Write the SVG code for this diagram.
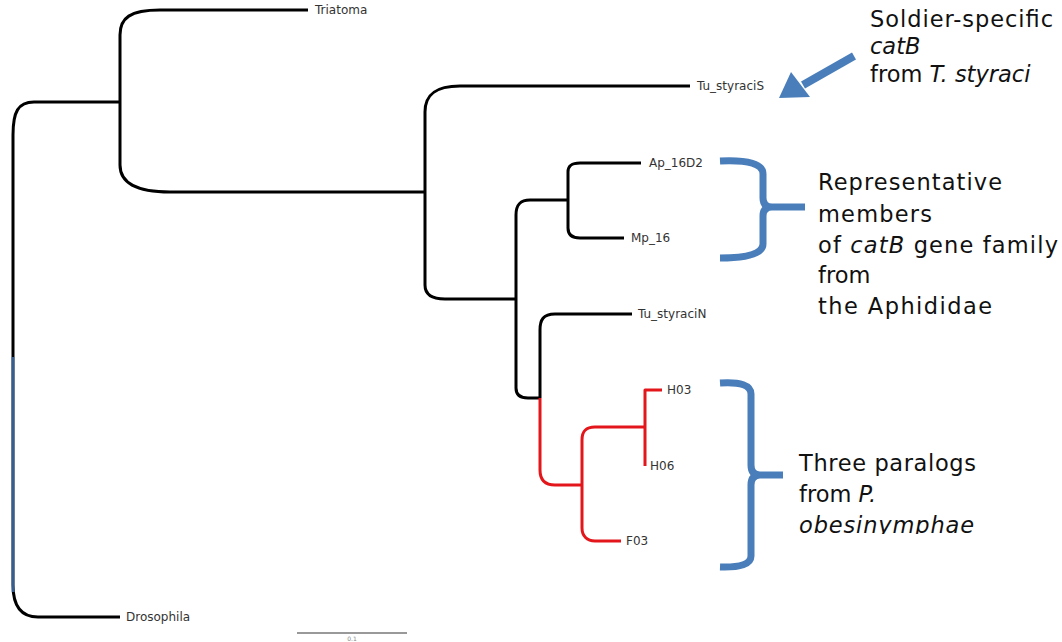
<svg xmlns="http://www.w3.org/2000/svg" width="1062" height="642" viewBox="0 0 1062 642">
<style>
.br{fill:none;stroke:#000;stroke-width:3;stroke-linecap:butt;stroke-linejoin:round}
.red{stroke:#e3171b}
.tip{font-family:"DejaVu Sans","Liberation Sans",sans-serif;font-size:12px;fill:#333}
.ann{font-family:"DejaVu Sans","Liberation Sans",sans-serif;font-size:22.5px;fill:#111}
.it{font-style:italic}
.blue{fill:none;stroke:#4a7ebb;stroke-width:7;stroke-linejoin:round}
</style>
<defs>
<clipPath id="clipObes"><rect x="780" y="500" width="282" height="34"/></clipPath>
</defs>
<rect width="1062" height="642" fill="#fff"/>

<g id="connectors">
  <path class="br" d="M120 102 H34 C18 102 13 112 13 135 V585 C13 605 20 617 38 617 H120"/>
  <path d="M13 357 V592" fill="none" stroke="#4a7ebb" stroke-width="3" opacity="0.75"/>
  <path class="br" d="M308 10 H160 C130 10 120 18 120 35 V165 C120 182 135 192 170 192 H425"/>
  <path class="br" d="M690 86 H460 C435 86 425 95 425 112 V285 C425 295 432 299 445 299 H516"/>
  <path class="br" d="M568 200 H530 C520 200 516 205 516 215 V388 C516 395 520 398 528 398 H540"/>
  <path class="br" d="M641 163 H580 C571 163 568 166 568 172 V228 C568 235 572 238 580 238 H624"/>
  <path class="br" d="M632 314 H555 C543 314 540 320 540 330 V398"/>
  <path class="br red" d="M540 398 V470 C540 480 545 485 555 485 H582"/>
  <path class="br red" d="M645 427 H595 C585 427 582 432 582 440 V528 C582 536 587 541 595 541 H621"/>
  <path class="br red" d="M662 390 H645 V466"/>
  <path d="M297 633 H407" stroke="#777" stroke-width="1.5" fill="none"/>
</g>

<g id="tip-triatoma"><text class="tip" x="315" y="14">Triatoma</text></g>
<g id="tip-tu-styracis"><text class="tip" x="697" y="90">Tu_styraciS</text></g>
<g id="tip-ap16d2"><text class="tip" x="649" y="167">Ap_16D2</text></g>
<g id="tip-mp16"><text class="tip" x="631" y="242">Mp_16</text></g>
<g id="tip-tu-styracin"><text class="tip" x="638" y="318">Tu_styraciN</text></g>
<g id="tip-h03"><text class="tip" x="667" y="394">H03</text></g>
<g id="tip-h06"><text class="tip" x="650" y="470">H06</text></g>
<g id="tip-f03"><text class="tip" x="626" y="545">F03</text></g>
<g id="tip-drosophila"><text class="tip" x="126" y="621">Drosophila</text></g>
<g id="scale-label"><text x="352" y="641" text-anchor="middle" font-family="DejaVu Sans, sans-serif" font-size="6" fill="#888">0.1</text></g>

<g id="note-soldier">
  <path d="M854 56 L803 85" stroke="#4a7ebb" stroke-width="8" fill="none"/>
  <polygon points="779,98 791,72 810,97" fill="#4a7ebb"/>
  <text class="ann" x="870" y="27" textLength="183" lengthAdjust="spacing">Soldier-specific</text>
  <text class="ann it" x="870" y="54">catB</text>
  <text class="ann" x="870" y="82">from <tspan class="it">T. styraci</tspan></text>
</g>

<g id="note-aphididae">
  <path class="blue" d="M720 161 Q763 159 763 174 V198 Q763 207 772 207 H805 M772 207 Q763 207 763 216 V244 Q763 258 720 258"/>
  <text class="ann" x="818" y="190" textLength="184" lengthAdjust="spacing">Representative</text>
  <text class="ann" x="818" y="222" textLength="114" lengthAdjust="spacing">members</text>
  <text class="ann" x="818" y="253" textLength="240" lengthAdjust="spacing">of <tspan class="it">catB</tspan> gene family</text>
  <text class="ann" x="818" y="283">from</text>
  <text class="ann" x="818" y="314" textLength="174" lengthAdjust="spacing">the Aphididae</text>
</g>

<g id="note-paralogs">
  <path class="blue" d="M720 383 Q751 381 751 394 V465 Q751 475 760 475 H783 M760 475 Q751 475 751 485 V556 Q751 568 720 567"/>
  <text class="ann" x="799" y="471" textLength="177" lengthAdjust="spacing">Three paralogs</text>
  <text class="ann" x="799" y="502">from <tspan class="it">P.</tspan></text>
  <text class="ann it" x="799" y="533" textLength="175" lengthAdjust="spacing" clip-path="url(#clipObes)">obesinymphae</text>
</g>
</svg>
